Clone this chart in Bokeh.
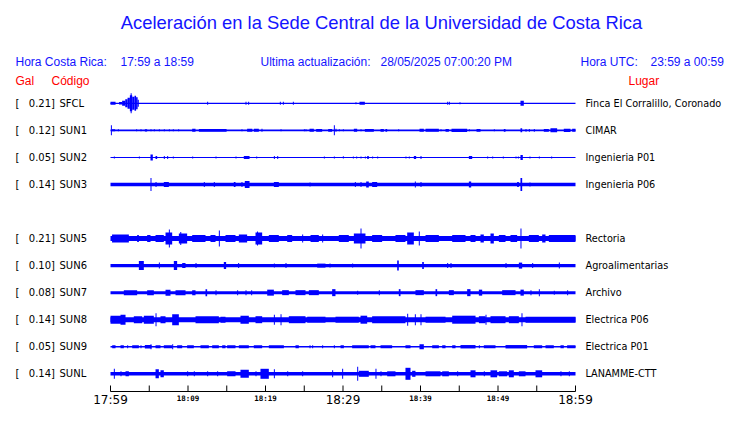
from bokeh.plotting import figure
from bokeh.models import Range1d, Label, ColumnDataSource
from bokeh.core.properties import value
from bokeh.embed import file_html
from bokeh.resources import INLINE

# ---------------- data ----------------
codes = ["SFCL", "SUN1", "SUN2", "SUN3", "SUN5", "SUN6", "SUN7", "SUN8", "SUN9", "SUNL"]
gal = ["0.21", "0.12", "0.05", "0.14", "0.21", "0.10", "0.08", "0.14", "0.05", "0.14"]
places = ["Finca El Corralillo, Coronado", "CIMAR", "Ingenieria P01", "Ingenieria P06",
          "Rectoria", "Agroalimentarias", "Archivo", "Electrica P06", "Electrica P01", "LANAMME-CTT"]
slots = [0, 1, 2, 3, 5, 6, 7, 8, 9, 10]          # SUN4 slot is empty
tick_minutes = [0, 10, 20, 30, 40, 50, 60]
tick_labels = ["17:59", "18:09", "18:19", "18:29", "18:39", "18:49", "18:59"]
major_labels = [True, False, False, True, False, False, True]

# background noise half-amplitude of each trace (display units)
noise = [0.6, 0.8, 0.5, 1.7, 2.5, 1.7, 1.5, 2.5, 0.7, 1.7]

# bursts: (start minute, end minute, half amplitude)
sfcl = [(0.0, 0.65, 1.5), (1.1, 1.5, 1.3), (1.5, 1.9, 2.5), (1.9, 2.2, 4), (2.2, 2.5, 5.5), (2.5, 2.8, 8),
        (2.6, 2.7, 10), (2.8, 3.1, 6.5), (3.1, 3.3, 7.5), (3.3, 3.5, 6), (3.5, 3.65, 3.5), (12.47, 12.47, 1.5),
        (17.42, 17.42, 1.5), (17.76, 17.76, 1.5), (21.85, 21.85, 1.5), (22.24, 22.24, 1.5), (23.53, 23.53, 1.5),
        (31.61, 31.61, 1), (32.13, 32.82, 1.5), (43.44, 43.44, 1.5), (43.66, 43.66, 1.5), (45.03, 45.03, 1),
        (52.9, 53.33, 2.5)]
sun1 = [(0.05, 0.1, 5), (0.2, 0.6, 1), (0.95, 0.95, 1), (3.31, 3.31, 1), (3.87, 3.87, 1), (4.43, 4.73, 1.2),
        (5.16, 5.16, 1), (5.59, 5.59, 1), (6.24, 6.24, 1), (6.88, 6.88, 1), (7.53, 7.53, 1), (8.04, 8.04, 1),
        (8.73, 8.73, 1), (10.54, 10.97, 1.5), (11.4, 14.98, 1.3), (16.9, 16.9, 1), (17.63, 18.3, 1.5),
        (18.5, 19.14, 1.5), (19.48, 19.48, 1.5), (21.94, 21.94, 1), (24.95, 24.95, 1), (25.16, 25.16, 1),
        (25.68, 26.24, 1.5), (26.54, 27.31, 1.3), (28.09, 28.6, 1.3), (28.82, 28.82, 5), (29.03, 29.03, 1.5),
        (29.46, 29.46, 1), (29.98, 29.98, 1), (31.4, 31.83, 1.5), (32.26, 32.26, 1), (32.82, 33.98, 1.3),
        (34.84, 35.27, 1.3), (35.48, 35.7, 1.3), (37.12, 37.12, 1), (39.87, 40.43, 1.5), (40.65, 42.37, 1.5),
        (42.58, 42.58, 1), (43.23, 43.66, 1.3), (44.0, 46.02, 1.7), (46.24, 46.24, 1), (47.23, 47.74, 1.3),
        (49.46, 49.46, 1), (50.75, 50.97, 1.3), (52.9, 53.12, 2), (53.55, 53.55, 1.3), (53.98, 53.98, 1.3),
        (54.62, 54.62, 1.3), (55.91, 56.56, 1.3), (56.77, 57.63, 2), (58.49, 59.35, 1.7), (59.57, 60, 1.5)]
sun2 = [(0.43, 0.43, 1), (3.66, 3.66, 1), (5.16, 5.46, 3), (5.81, 6.02, 1.5), (6.88, 6.88, 1.5), (7.31, 7.31, 1.5),
        (8.04, 8.04, 1), (10.54, 10.54, 1), (13.55, 13.55, 1), (16.13, 16.13, 1), (17.2, 17.94, 1.5),
        (18.8, 18.8, 1), (21.08, 21.08, 1.5), (21.51, 21.51, 1.5), (27.53, 27.53, 1), (28.82, 28.82, 1),
        (29.98, 29.98, 1.2), (31.27, 31.27, 1), (31.7, 31.7, 1), (32.26, 32.26, 1), (32.82, 32.82, 1),
        (33.12, 33.33, 1.5), (33.76, 33.76, 1), (34.41, 34.41, 1), (38.06, 38.06, 1), (38.49, 38.49, 1),
        (39.14, 39.44, 1.5), (40.0, 40.0, 1.5), (46.24, 46.67, 1.5), (48.6, 48.6, 1), (49.25, 49.25, 1),
        (50.62, 50.62, 1), (52.26, 52.26, 1), (52.56, 52.56, 1), (52.9, 53.2, 2.5), (54.06, 54.06, 1),
        (55.27, 55.27, 1), (56.86, 56.86, 1)]
sun3 = [(5.16, 5.29, 6.5), (5.81, 5.81, 2.5), (6.88, 7.53, 2.5), (12.04, 12.04, 2.5), (13.33, 13.33, 2.5),
        (15.91, 16.13, 2.5), (16.9, 16.9, 2.5), (17.33, 17.94, 3.5), (21.08, 21.72, 2.5), (25.68, 25.68, 2),
        (31.53, 31.53, 2.5), (32.26, 32.26, 2.5), (32.99, 33.33, 3), (33.76, 34.41, 2.5), (39.27, 39.27, 3),
        (40.0, 40.0, 2.5), (46.24, 46.54, 3), (52.47, 52.69, 2.5), (52.9, 53.12, 6.5), (54.06, 54.06, 2)]
sun5 = [(0.2, 2.37, 4), (3.44, 3.66, 3.5), (4.73, 5.16, 3.5), (5.81, 6.88, 3.5), (7.1, 7.96, 6), (7.53, 7.6, 9),
        (8.82, 9.89, 5), (9.0, 9.1, 6.5), (10.54, 12.26, 3.5), (12.9, 13.55, 3.5), (13.98, 13.98, 8),
        (14.84, 16.13, 3.5), (16.56, 17.63, 4), (18.71, 19.57, 6), (18.9, 19.0, 7), (20.43, 21.72, 3.5),
        (22.8, 23.44, 3.5), (24.73, 24.73, 4), (25.81, 26.88, 3.5), (27.31, 27.31, 4), (29.46, 30.75, 3.5),
        (31.4, 32.9, 5), (32.26, 32.26, 10), (33.76, 35.05, 3.5), (36.77, 38.06, 3.5), (38.28, 39.14, 6),
        (39.78, 39.78, 7), (40.65, 42.37, 3.5), (44.09, 45.81, 3.5), (46.45, 47.1, 3.5), (47.74, 48.17, 4),
        (49.03, 49.46, 5), (50.11, 50.97, 3.5), (51.61, 52.47, 3.5), (52.9, 52.95, 10), (53.98, 55.27, 3.5),
        (55.7, 56.13, 4), (56.56, 60, 3.5)]
sun6 = [(3.66, 4.3, 4.5), (6.24, 6.24, 3), (8.17, 8.6, 4.5), (9.25, 9.68, 2.5), (10.97, 10.97, 2.5),
        (14.62, 14.92, 3.5), (16.47, 16.47, 2.5), (21.08, 21.08, 2), (22.58, 22.58, 2.5), (26.67, 27.74, 2),
        (28.26, 28.26, 2), (31.18, 31.18, 2), (36.99, 37.2, 5), (40.22, 40.43, 3.5), (43.44, 43.44, 2.5),
        (43.87, 43.87, 2.5), (50.97, 50.97, 2.5), (52.69, 53.12, 3), (54.41, 54.41, 2.5), (57.85, 57.85, 3)]
sun7 = [(1.72, 3.44, 2.5), (4.73, 5.59, 2.5), (7.1, 7.74, 3), (8.39, 9.68, 2.5), (10.54, 10.97, 2.5),
        (12.26, 12.47, 3.5), (13.55, 13.55, 2.5), (16.34, 16.34, 2.5), (17.42, 17.42, 2.5), (18.15, 18.15, 2.5),
        (20.22, 21.08, 3), (22.15, 23.01, 2.5), (23.87, 25.16, 2.5), (25.59, 26.88, 2.5), (28.6, 29.03, 3.5),
        (31.83, 31.83, 2), (34.62, 34.62, 2.5), (37.2, 37.42, 3.5), (39.35, 40.43, 2.5), (41.94, 42.15, 3.5),
        (43.66, 44.3, 2.5), (46.02, 46.45, 3.5), (47.53, 47.96, 3), (50.54, 52.26, 2.5), (52.9, 53.33, 3),
        (54.19, 54.19, 2.5), (55.27, 55.27, 3.5), (57.2, 57.2, 2), (58.92, 58.92, 2.5)]
sun8 = [(0.0, 1.5, 4), (1.29, 1.94, 5), (3.01, 4.09, 3.5), (4.3, 5.59, 4), (5.81, 5.85, 6.5), (6.45, 7.1, 3.5),
        (7.96, 8.82, 5.5), (10.97, 13.98, 3.5), (14.19, 14.84, 3), (16.77, 17.85, 4), (18.71, 19.57, 3.5),
        (21.08, 21.12, 5), (21.94, 22.0, 5.5), (23.01, 25.16, 3.5), (25.38, 27.74, 3), (29.03, 32.04, 3),
        (32.26, 33.12, 4), (33.76, 38.06, 3.5), (38.28, 38.32, 6), (39.27, 39.31, 5.5), (40.0, 40.04, 5.5),
        (40.65, 43.23, 3), (44.09, 47.1, 4), (47.53, 48.39, 3.5), (48.39, 48.43, 5), (49.03, 50.97, 3.5),
        (51.4, 52.69, 3.5), (53.03, 53.07, 6.5), (53.55, 60, 3)]
sun9 = [(0.22, 0.65, 1.5), (1.29, 1.72, 1.5), (2.15, 2.15, 1.5), (2.8, 3.66, 1.5), (3.87, 3.87, 1.5),
        (4.43, 5.29, 1.7), (5.16, 5.2, 2.5), (5.81, 6.45, 1.5), (6.88, 7.96, 1.5), (7.96, 8.0, 2.5),
        (8.6, 9.25, 1.5), (9.89, 10.75, 1.5), (11.61, 12.69, 1.5), (13.12, 13.98, 1.5), (14.41, 14.84, 1.5),
        (15.05, 16.13, 1.5), (16.56, 17.85, 1.5), (18.49, 19.57, 1.5), (20.43, 22.37, 1.5), (23.87, 24.3, 1.5),
        (25.68, 25.68, 1.5), (26.02, 26.02, 1.5), (27.31, 27.31, 1.5), (28.82, 28.82, 1.5), (29.68, 30.11, 1.5),
        (31.18, 33.33, 1.5), (33.55, 34.19, 1.5), (34.84, 36.34, 1.5), (38.06, 38.71, 1.5), (39.87, 40.43, 2.5),
        (41.51, 42.37, 1.5), (42.8, 43.23, 1.5), (44.09, 44.52, 1.5), (45.16, 47.1, 1.7), (47.53, 47.53, 1.5),
        (48.17, 49.68, 1.5), (50.97, 53.76, 1.7), (54.62, 55.7, 1.5), (56.13, 57.2, 1.5), (58.06, 58.49, 1.5),
        (58.92, 60, 1.5)]
sunl = [(0.43, 0.47, 5), (1.29, 1.29, 2.5), (1.94, 2.37, 2.5), (5.81, 6.24, 4.5), (6.45, 6.88, 3.5),
        (9.89, 9.89, 2.5), (10.75, 10.75, 2.5), (12.47, 12.47, 2.5), (13.76, 13.76, 2.5), (15.05, 16.13, 2.5),
        (16.77, 17.85, 4), (18.71, 18.71, 2.5), (19.35, 20.43, 5), (21.08, 21.08, 4.5), (22.8, 22.8, 2.5),
        (24.73, 24.73, 2.5), (28.6, 28.6, 3.5), (29.89, 29.93, 5), (31.83, 31.87, 7), (32.04, 33.33, 3),
        (34.19, 34.23, 5), (34.84, 34.84, 2.5), (35.7, 36.77, 2.5), (38.06, 38.71, 6), (38.92, 39.35, 3),
        (40.65, 42.58, 2.5), (42.8, 43.66, 2.5), (44.73, 44.73, 2.5), (46.45, 47.1, 3.5), (48.17, 48.17, 2.5),
        (49.03, 49.89, 3.5), (50.11, 51.18, 2.5), (51.4, 52.04, 3.5), (52.69, 53.55, 2.5), (54.84, 55.7, 3.5),
        (58.06, 58.06, 2.5), (59.14, 59.14, 2.5)]
bursts = [sfcl, sun1, sun2, sun3, sun5, sun6, sun7, sun8, sun9, sunl]

# ---------------- layout ----------------
W, H = 724, 407
PX_PER_MIN = 7.75
X0 = 110.0          # canvas x of minute 0
ROW0 = 102.8        # canvas y of first trace
GAP = 27.05
AX_Y = 391.0
SPAN = 60
BLUE = "#0000ff"
TXT_BLUE = "#1414ff"

p = figure(width=W, height=H, output_backend="svg", toolbar_location=None,
           x_range=Range1d(-X0 / PX_PER_MIN, (W - X0) / PX_PER_MIN),
           y_range=Range1d(H, 0), x_axis_type=None, y_axis_type=None,
           min_border=0, min_border_left=0, min_border_right=0, min_border_top=0, min_border_bottom=0)
p.grid.visible = False
p.outline_line_color = None
p.background_fill_color = "white"
p.border_fill_color = "white"

MIN_W = 1.0 / PX_PER_MIN
left, right, top, bottom = [], [], [], []
for slot, base, ev in zip(slots, noise, bursts):
    yc = ROW0 + slot * GAP
    left.append(0); right.append(SPAN); top.append(yc - base); bottom.append(yc + base)
    for t0, t1, a in ev:
        left.append(t0)
        right.append(max(t1, t0 + MIN_W))
        top.append(yc - a)
        bottom.append(yc + a)
p.quad(left=left, right=right, top=top, bottom=bottom, fill_color=BLUE, line_color=None)

# time axis
tick_x = list(range(0, SPAN + 1, 5))
p.segment(x0=[0], y0=[AX_Y], x1=[SPAN], y1=[AX_Y], line_color="black", line_width=1)
p.segment(x0=tick_x, y0=[AX_Y - 6] * len(tick_x), x1=tick_x, y1=[AX_Y] * len(tick_x),
          line_color="black", line_width=1)
big = ColumnDataSource(dict(x=[m for m, b in zip(tick_minutes, major_labels) if b],
                            t=[l for l, b in zip(tick_labels, major_labels) if b]))
small = ColumnDataSource(dict(x=[m for m, b in zip(tick_minutes, major_labels) if not b],
                              t=[l for l, b in zip(tick_labels, major_labels) if not b]))
p.text(x="x", y=AX_Y + 8, text="t", source=big, text_align="center", text_baseline="middle",
       text_font=value("DejaVu Sans"), text_font_size="12px", text_color="black")
p.text(x="x", y=AX_Y + 7, text="t", source=small, text_align="center", text_baseline="middle",
       text_font=value("DejaVu Sans Mono"), text_font_size="7.5px", text_font_style="bold", text_color="black")


def lab(x, y, text, size, color="black", font="DejaVu Sans", align="left"):
    p.add_layout(Label(x=x, y=y, x_units="screen", y_units="data", text=text, text_font=font,
                       text_font_size=size, text_color=color, text_align=align, text_baseline="middle"))


lab(381, 22, "Aceleración en la Sede Central de la Universidad de Costa Rica", "18.4px", TXT_BLUE,
    "Liberation Sans", "center")
lab(15, 61, "Hora Costa Rica:", "12px", TXT_BLUE, "Liberation Sans")
lab(120, 61, "17:59 a 18:59", "12px", TXT_BLUE, "Liberation Sans")
lab(260, 61, "Ultima actualización:", "12px", TXT_BLUE, "Liberation Sans")
lab(380, 61, "28/05/2025 07:00:20 PM", "12px", TXT_BLUE, "Liberation Sans")
lab(580, 61, "Hora UTC:", "12px", TXT_BLUE, "Liberation Sans")
lab(650, 61, "23:59 a 00:59", "12px", TXT_BLUE, "Liberation Sans")
lab(15, 80, "Gal", "12px", "red", "Liberation Sans")
lab(51, 80, "Código", "12px", "red", "Liberation Sans")
lab(628, 80, "Lugar", "12px", "red", "Liberation Sans")

for slot, g, c, pl in zip(slots, gal, codes, places):
    yc = ROW0 + slot * GAP
    lab(15, yc, "[", "10px")
    lab(54.5, yc, g + "]", "10px", align="right")
    lab(59, yc, c, "10px")
    lab(585, yc, pl, "9.7px")

open("out.html", "w").write(file_html(p, INLINE))
